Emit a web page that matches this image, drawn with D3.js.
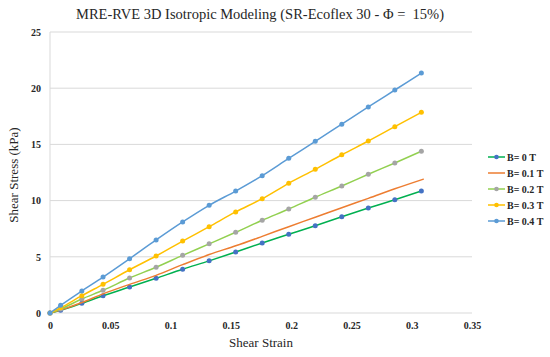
<!DOCTYPE html>
<html>
<head>
<meta charset="utf-8">
<script src="https://cdn.jsdelivr.net/npm/d3@7"></script>
<style>
  body { margin: 0; background: #fff; }
  svg text { font-family: 'Liberation Serif', 'Times New Roman', serif; white-space: pre; }
</style>
</head>
<body>
<div id="content"></div>
<script>
// Datos
const strain = [0, 0.0088, 0.0264, 0.044, 0.066, 0.088, 0.11, 0.132, 0.154, 0.176, 0.198, 0.22, 0.242, 0.264, 0.286, 0.308];
const strainB01 = [0, 0.0088, 0.0264, 0.044, 0.066, 0.088, 0.11, 0.132, 0.154, 0.176, 0.198, 0.22, 0.242, 0.264, 0.286, 0.31];

const seriesNames = ['B= 0 T', 'B= 0.1 T', 'B= 0.2 T', 'B= 0.3 T', 'B= 0.4 T'];
const stressB00 = [0, 0.24, 0.86, 1.54, 2.31, 3.09, 3.89, 4.64, 5.43, 6.23, 7.0, 7.77, 8.57, 9.34, 10.08, 10.85];
const stressB01 = [0, 0.27, 0.93, 1.7, 2.55, 3.35, 4.3, 5.2, 5.98, 6.82, 7.68, 8.52, 9.37, 10.2, 11.05, 11.92];
const stressB02 = [0, 0.35, 1.25, 2.02, 3.11, 4.07, 5.13, 6.15, 7.18, 8.25, 9.25, 10.3, 11.3, 12.34, 13.35, 14.39];
const stressB03 = [0, 0.47, 1.54, 2.55, 3.85, 5.07, 6.4, 7.68, 8.99, 10.17, 11.54, 12.78, 14.08, 15.3, 16.58, 17.85];
const stressB04 = [0, 0.68, 1.96, 3.2, 4.83, 6.5, 8.1, 9.58, 10.85, 12.22, 13.76, 15.27, 16.8, 18.33, 19.84, 21.35];

const xTicks = [0, 0.05, 0.1, 0.15, 0.2, 0.25, 0.3, 0.35];
const yTicks = [0, 5, 10, 15, 20, 25];

const width = 550;
const height = 357;
const margin = { top: 32, right: 78, bottom: 44, left: 50 };
const serif = "'Liberation Serif', 'Times New Roman', serif";

const series = [
    { name: seriesNames[0], x: strain,    y: stressB00, line: '#00b050', marker: '#4472c4', shape: 'circle' },
    { name: seriesNames[1], x: strainB01, y: stressB01, line: '#ed7d31', marker: '#ed7d31', shape: 'dash' },
    { name: seriesNames[2], x: strain,    y: stressB02, line: '#92d050', marker: '#a5a5a5', shape: 'circle' },
    { name: seriesNames[3], x: strain,    y: stressB03, line: '#ffc000', marker: '#ffc000', shape: 'circle' },
    { name: seriesNames[4], x: strain,    y: stressB04, line: '#5b9bd5', marker: '#5b9bd5', shape: 'circle' }
];

const svg = d3.select('#content')
    .append('svg')
    .attr('width', width)
    .attr('height', height);

const x = d3.scaleLinear().domain([0, 0.35]).range([margin.left, width - margin.right]);
const y = d3.scaleLinear().domain([0, 25]).range([height - margin.bottom, margin.top]);

// Rejilla horizontal
svg.append('g')
    .selectAll('line')
    .data(yTicks)
    .enter()
    .append('line')
    .attr('x1', x(0))
    .attr('x2', x(0.35))
    .attr('y1', d => y(d))
    .attr('y2', d => y(d))
    .attr('stroke', '#d9d9d9')
    .attr('stroke-width', 1);

// Eje vertical
svg.append('line')
    .attr('x1', x(0)).attr('x2', x(0))
    .attr('y1', y(0)).attr('y2', y(25))
    .attr('stroke', '#d9d9d9');

// Etiquetas de los ejes
const xAxis = svg.append('g')
    .attr('transform', `translate(0, ${y(0)})`)
    .call(d3.axisBottom(x).tickValues(xTicks).tickFormat(d3.format('')).tickSize(0).tickPadding(9));
xAxis.select('.domain').remove();
xAxis.selectAll('text')
    .style('font-family', serif)
    .style('font-size', '10px')
    .style('font-weight', 'bold')
    .attr('fill', '#262626');

const yAxis = svg.append('g')
    .attr('transform', `translate(${x(0)}, 0)`)
    .call(d3.axisLeft(y).tickValues(yTicks).tickSize(0).tickPadding(9));
yAxis.select('.domain').remove();
yAxis.selectAll('text')
    .style('font-family', serif)
    .style('font-size', '10px')
    .style('font-weight', 'bold')
    .attr('fill', '#262626');

// Lineas
const line = d3.line()
    .x(d => x(d[0]))
    .y(d => y(d[1]))
    .curve(d3.curveMonotoneX);

series.forEach(s => {
    const pts = s.x.map((v, i) => [v, s.y[i]]);
    svg.append('path')
        .datum(pts)
        .attr('fill', 'none')
        .attr('stroke', s.line)
        .attr('stroke-width', 1.5)
        .attr('d', line);

    if (s.shape === 'circle') {
        svg.append('g')
            .selectAll('circle')
            .data(pts)
            .enter()
            .append('circle')
            .attr('cx', d => x(d[0]))
            .attr('cy', d => y(d[1]))
            .attr('r', 2.5)
            .attr('fill', s.marker);
    }
});

// Titulo
svg.append('text')
    .attr('x', 260)
    .attr('y', 19)
    .attr('text-anchor', 'middle')
    .attr('fill', '#262626')
    .style('font-family', serif)
    .style('font-size', '14.5px')
    .text('MRE-RVE 3D Isotropic Modeling (SR-Ecoflex 30 - \u03A6 =  15%)');

svg.append('text')
    .attr('x', 261)
    .attr('y', 347)
    .attr('text-anchor', 'middle')
    .attr('fill', '#262626')
    .style('font-family', serif)
    .style('font-size', '13px')
    .text('Shear Strain');

svg.append('text')
    .attr('transform', 'translate(18, 175) rotate(-90)')
    .attr('text-anchor', 'middle')
    .attr('fill', '#262626')
    .style('font-family', serif)
    .style('font-size', '13px')
    .text('Shear Stress (kPa)');

// Leyenda
const legend = svg.append('g')
    .selectAll('g')
    .data(series)
    .enter()
    .append('g')
    .attr('transform', (d, i) => `translate(488, ${157 + i * 16})`);

legend.append('line')
    .attr('x1', 0).attr('x2', 17)
    .attr('stroke', d => d.line)
    .attr('stroke-width', 1.5);

legend.filter(d => d.shape === 'circle')
    .append('circle')
    .attr('cx', 8.5)
    .attr('r', 2.3)
    .attr('fill', d => d.marker);

legend.append('text')
    .attr('x', 19)
    .attr('y', 3.5)
    .attr('fill', '#262626')
    .style('font-family', serif)
    .style('font-size', '10px')
    .style('font-weight', 'bold')
    .text(d => d.name);
</script>
</body>
</html>
